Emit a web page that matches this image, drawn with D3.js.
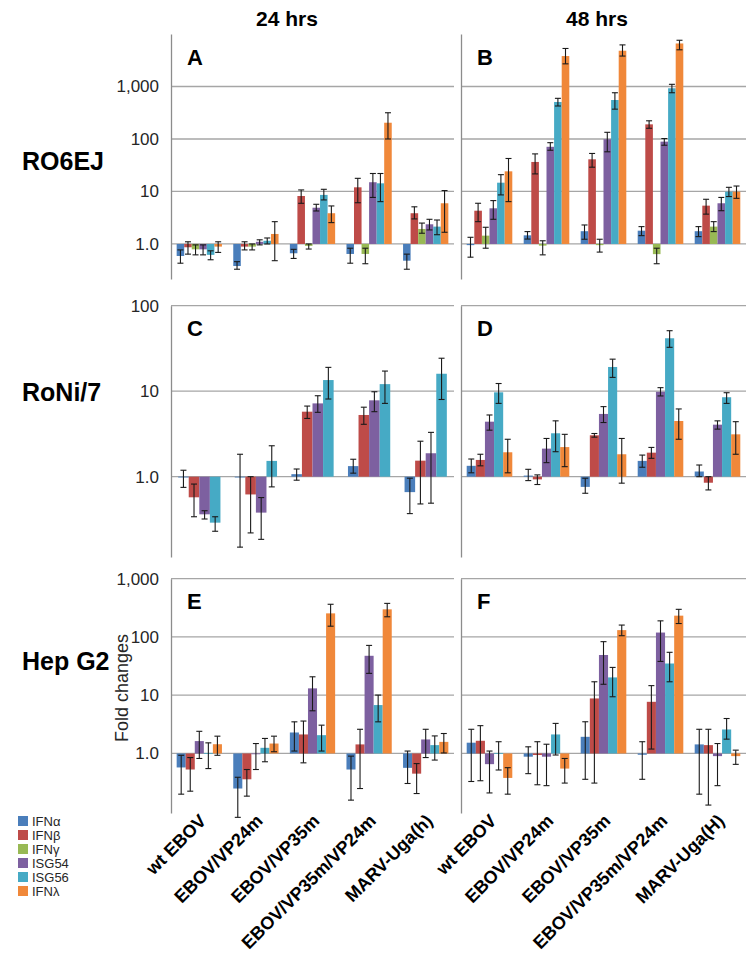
<!DOCTYPE html>
<html><head><meta charset="utf-8">
<script src="https://cdn.jsdelivr.net/npm/d3@7"></script>
<style>body{margin:0;background:#fff;} svg{display:block;font-family:Arial,"Liberation Sans",sans-serif;}</style>
</head><body>
<svg id="c" width="750" height="959"></svg>
<script>
// ---------- data ----------
const categories24 = ["wt EBOV","EBOV/VP24m","EBOV/VP35m","EBOV/VP35m/VP24m","MARV-Uga(h)"];
const categories48 = ["wt EBOV","EBOV/VP24m","EBOV/VP35m","EBOV/VP35m/VP24m","MARV-Uga(H)"];
const seriesNames = ["IFNα","IFNβ","IFNγ","ISG54","ISG56","IFNλ"];
const seriesColors = ["#4A7EBB","#BE4B48","#98B954","#7D60A0","#46AAC5","#F0883A"];
const columnLabels = ["24 hrs","48 hrs"];
const rowLabels = ["RO6EJ","RoNi/7","Hep G2"];
const panelLetters = ["A","B","C","D","E","F"];
const ticksRow1 = [1,10,100,1000];
const ticksRow2 = [1,10,100];
const ticksRow3 = [1,10,100,1000];
const yAxisTitle = "Fold changes";

// Panel A (RO6EJ, 24 hrs) — series order as seriesNames
const meanA = [[0.59,0.38,0.665,0.645,0.48],[0.865,0.89,8.2,12,3.85],[0.79,0.89,0.92,0.645,1.93],[0.79,1.1,4.9,15,2.37],[0.62,1.15,8.6,14.3,2.14],[0.89,1.55,3.85,204,5.96]];
const lowA  = [[0.43,0.33,0.53,0.43,0.33],[0.64,0.77,5.95,6.1,3.0],[0.62,0.77,0.8,0.42,1.6],[0.62,0.96,4.25,7.7,1.85],[0.5,1.0,6.9,6.4,1.5],[0.69,0.48,2.55,100,1.67]];
const highA = [[0.77,0.46,0.79,0.83,0.64],[1.1,1.1,10.7,17.8,5.1],[0.96,1.0,1.0,0.83,2.5],[0.96,1.2,5.7,22,2.95],[0.74,1.3,11,22,2.86],[1.1,2.66,5.3,316,10.4]];
// Panel B (RO6EJ, 48 hrs)
const meanB = [[0.95,1.46,1.75,1.79,1.75],[4.3,36.5,41,190,5.37],[1.44,0.93,0.95,0.64,2.14],[4.78,71,99,89,5.96],[14.7,507,553,925,9.9],[24.2,3800,4800,6600,9.9]];
const lowB  = [[0.56,1.24,1.23,1.44,1.38],[2.66,21.6,29,160,3.7],[0.83,0.62,0.70,0.42,1.72],[2.95,61,57,76,4.3],[8.6,425,370,760,8],[6.4,2700,3800,5000,7.4]];
const highB = [[1.34,1.72,2.3,2.14,2.14],[5.96,52,53,222,7.1],[2.08,1.15,1.23,0.83,2.66],[6.7,85,134,102,7.7],[20.9,595,760,1100,12],[42.5,5300,6200,7600,12.7]];
// Panel C (RoNi/7, 24 hrs) — no IFNγ / IFNλ
const meanC = [[0.98,0.99,1.07,1.33,0.66],[0.574,0.62,5.76,5.27,1.54],null,[0.363,0.38,7.2,7.82,1.88],[0.29,1.53,13.5,12.1,16],null];
const lowC  = [[0.75,0.15,0.91,1.1,0.37],[0.34,0.22,4.8,4.1,0.48],null,[0.32,0.185,5.66,5.76,0.49],[0.23,0.76,8.1,7.2,8.0],null];
const highC = [[1.19,1.83,1.23,1.6,0.96],[0.82,1.0,6.7,6.5,2.6],null,[0.40,0.57,8.85,9.85,3.3],[0.34,2.3,19,17.2,24.3],null];
// Panel D (RoNi/7, 48 hrs) — no IFNγ
const meanD = [[1.34,1.03,0.76,1.53,1.15],[1.57,0.93,3.05,1.91,0.85],null,[4.4,2.13,5.42,9.85,4.06],[9.7,3.22,19.2,41.6,8.5],[1.93,2.22,1.83,4.48,3.13]];
const lowD  = [[1.11,0.90,0.64,1.29,1.0],[1.34,0.81,2.9,1.64,0.70],null,[3.5,1.46,4.3,8.8,3.6],[7.2,1.96,14.5,32.6,7.2],[1.11,1.31,0.84,2.74,1.83]];
const highD = [[1.61,1.22,0.96,1.79,1.37],[1.83,1.05,3.2,2.2,1.0],null,[5.27,2.8,6.6,11,4.5],[12.3,4.5,23.7,51,9.6],[2.74,3.13,2.8,6.2,4.4]];
// Panel E (Hep G2, 24 hrs) — no IFNγ
const meanE = [[0.575,0.25,2.29,0.53,0.566],[0.53,0.36,2.12,1.43,0.45],null,[1.63,0.98,13.1,47.5,1.74],[1.02,1.25,2.06,6.77,1.39],[1.44,1.48,254,298,1.58]];
const lowE  = [[0.20,0.08,1.1,0.158,0.305],[0.225,0.185,0.69,0.25,0.205],null,[0.82,0.53,5.4,23.7,0.85],[0.55,0.72,1.1,3.49,0.77],[0.93,1.07,153,222,1.02]];
const highE = [[0.93,0.39,3.49,0.9,1.1],[0.85,0.53,3.6,2.6,0.67],null,[2.4,1.48,20.7,71.6,2.6],[1.52,1.81,3.06,10.05,2.0],[1.98,1.98,364,377,2.2]];
// Panel F (Hep G2, 48 hrs) — no IFNγ
const meanF = [[1.53,0.88,1.93,0.95,1.43],[1.65,0.94,8.8,7.7,1.39],null,[0.655,0.88,49,119,0.9],[1.02,2.12,20.2,35,2.58],[0.38,0.55,131,232,0.9]];
const lowF  = [[0.33,0.45,0.36,0.36,0.2],[0.34,0.29,0.31,1.19,0.13],null,[0.21,0.28,15.4,38,0.28],[0.52,0.94,9.4,17,1.76],[0.2,0.31,105,170,0.65]];
const highF = [[2.6,1.3,3.5,1.59,2.6],[3.0,1.59,17,14.6,2.6],null,[1.1,1.44,83,189,1.48],[1.59,3.28,30,54.5,3.98],[0.57,0.82,160,298,1.14]];

// ---------- layout ----------
const svg = d3.select("#c");
const colX = [[171,454],[461,746]];
const rows = [
  {top:34, bottom:279, domain:[0.215,10000], ticks:ticksRow1, grid:[10,100,1000]},
  {top:305.7, bottom:557, domain:[0.115,100], ticks:ticksRow2, grid:[10,100]},
  {top:578.7, bottom:813, domain:[0.095,1000], ticks:ticksRow3, grid:[10,100,1000]}
];
const panels = [
  {r:0,c:0,mean:meanA,low:lowA,high:highA},
  {r:0,c:1,mean:meanB,low:lowB,high:highB},
  {r:1,c:0,mean:meanC,low:lowC,high:highC,inset:1.5},
  {r:1,c:1,mean:meanD,low:lowD,high:highD},
  {r:2,c:0,mean:meanE,low:lowE,high:highE},
  {r:2,c:1,mean:meanF,low:lowF,high:highF}
];
const gridColor = "#a6a6a6", axisColor = "#8c8c8c";
const fmt = v => v === 1 ? "1.0" : d3.format(",")(v);

panels.forEach((p,pi) => {
  const row = rows[p.r];
  const cats = p.c === 0 ? categories24 : categories48;
  const x = d3.scaleBand().domain(cats).range(colX[p.c]).paddingInner(0.2).paddingOuter(0.1);
  const y = d3.scaleLog().domain(row.domain).range([row.bottom,row.top]);
  const present = d3.range(seriesNames.length).filter(i => p.mean[i]);
  const ins = p.inset || 0;
  const xi = d3.scaleBand().domain(present).range([ins, x.bandwidth()-ins]);
  const g = svg.append("g");
  // gridlines (incl. baseline at 1.0)
  g.selectAll("line.grid").data(row.grid.concat([1])).join("line")
    .attr("x1",colX[p.c][0]).attr("x2",colX[p.c][1])
    .attr("y1",d=>y(d)).attr("y2",d=>y(d))
    .attr("stroke",gridColor).attr("stroke-width",1.3);
  // y axis
  const ax = d3.axisLeft(y).tickValues(row.ticks).tickSize(0).tickPadding(12)
    .tickFormat(p.c === 0 ? fmt : () => "");
  const axg = g.append("g").attr("transform",`translate(${colX[p.c][0]},0)`).call(ax);
  axg.select(".domain").attr("stroke",axisColor).attr("stroke-width",1.3);
  axg.selectAll("text").attr("font-size",17).attr("fill","#262626")
    .attr("font-family","Arial, 'Liberation Sans', sans-serif");
  // bars
  const y1 = y(1);
  present.forEach(si => {
    const vals = p.mean[si], lo = p.low[si], hi = p.high[si];
    const data = cats.map((c,ci)=>({c, v:vals[ci], lo:lo[ci], hi:hi[ci]}));
    g.selectAll(null).data(data).join("rect")
      .attr("x",d=>x(d.c)+xi(si)).attr("width",xi.bandwidth())
      .attr("y",d=>Math.min(y(d.v),y1)).attr("height",d=>Math.max(0.8,Math.abs(y(d.v)-y1)))
      .attr("fill",seriesColors[si]);
    const eb = g.selectAll(null).data(data).join("g")
      .attr("transform",d=>`translate(${x(d.c)+xi(si)+xi.bandwidth()/2},0)`);
    eb.append("line").attr("y1",d=>y(d.lo)).attr("y2",d=>y(d.hi)).attr("stroke","#1a1a1a").attr("stroke-width",1.1);
    eb.append("line").attr("x1",-3).attr("x2",3).attr("y1",d=>y(d.lo)).attr("y2",d=>y(d.lo)).attr("stroke","#1a1a1a").attr("stroke-width",1.1);
    eb.append("line").attr("x1",-3).attr("x2",3).attr("y1",d=>y(d.hi)).attr("y2",d=>y(d.hi)).attr("stroke","#1a1a1a").attr("stroke-width",1.1);
  });
  // panel letter
  svg.append("text").attr("x",colX[p.c][0] + 16).attr("y",row.top + (p.r===0?31:30))
    .attr("font-size",22).attr("font-weight","bold").attr("fill","#000").text(panelLetters[pi]);
  // category labels under bottom row
  if (p.r === 2) {
    const xa = d3.axisBottom(x).tickSize(0).tickPadding(0);
    const xg = svg.append("g").attr("transform",`translate(0,822)`).call(xa);
    xg.select(".domain").remove();
    xg.selectAll("text").attr("font-size",18).attr("font-weight","bold").attr("fill","#000")
      .attr("text-anchor","end").attr("dy",0).attr("y",0).attr("x",0)
      .attr("transform","translate(8,0) rotate(-45)");
  }
});

// column headers
svg.selectAll("text.col").data(columnLabels).join("text")
  .attr("x",(d,i)=>[287,597][i]).attr("y",26).attr("text-anchor","middle")
  .attr("font-size",21).attr("font-weight","bold").text(d=>d);
// row labels
svg.selectAll("text.row").data(rowLabels).join("text")
  .attr("x",22).attr("y",(d,i)=>[170,401,670][i])
  .attr("font-size",25).attr("font-weight","bold").text(d=>d);
// y title
svg.append("text").attr("transform","translate(128,688) rotate(-90)").attr("text-anchor","middle")
  .attr("font-size",18).attr("fill","#262626").text(yAxisTitle);
// legend
const lg = svg.append("g").attr("transform","translate(18,816)");
seriesNames.forEach((s,i)=>{
  lg.append("rect").attr("x",0).attr("y",i*14).attr("width",10).attr("height",10).attr("fill",seriesColors[i]);
  lg.append("text").attr("x",14).attr("y",i*14+10).attr("font-size",13).attr("fill","#262626").text(s);
});
</script>
</body></html>
